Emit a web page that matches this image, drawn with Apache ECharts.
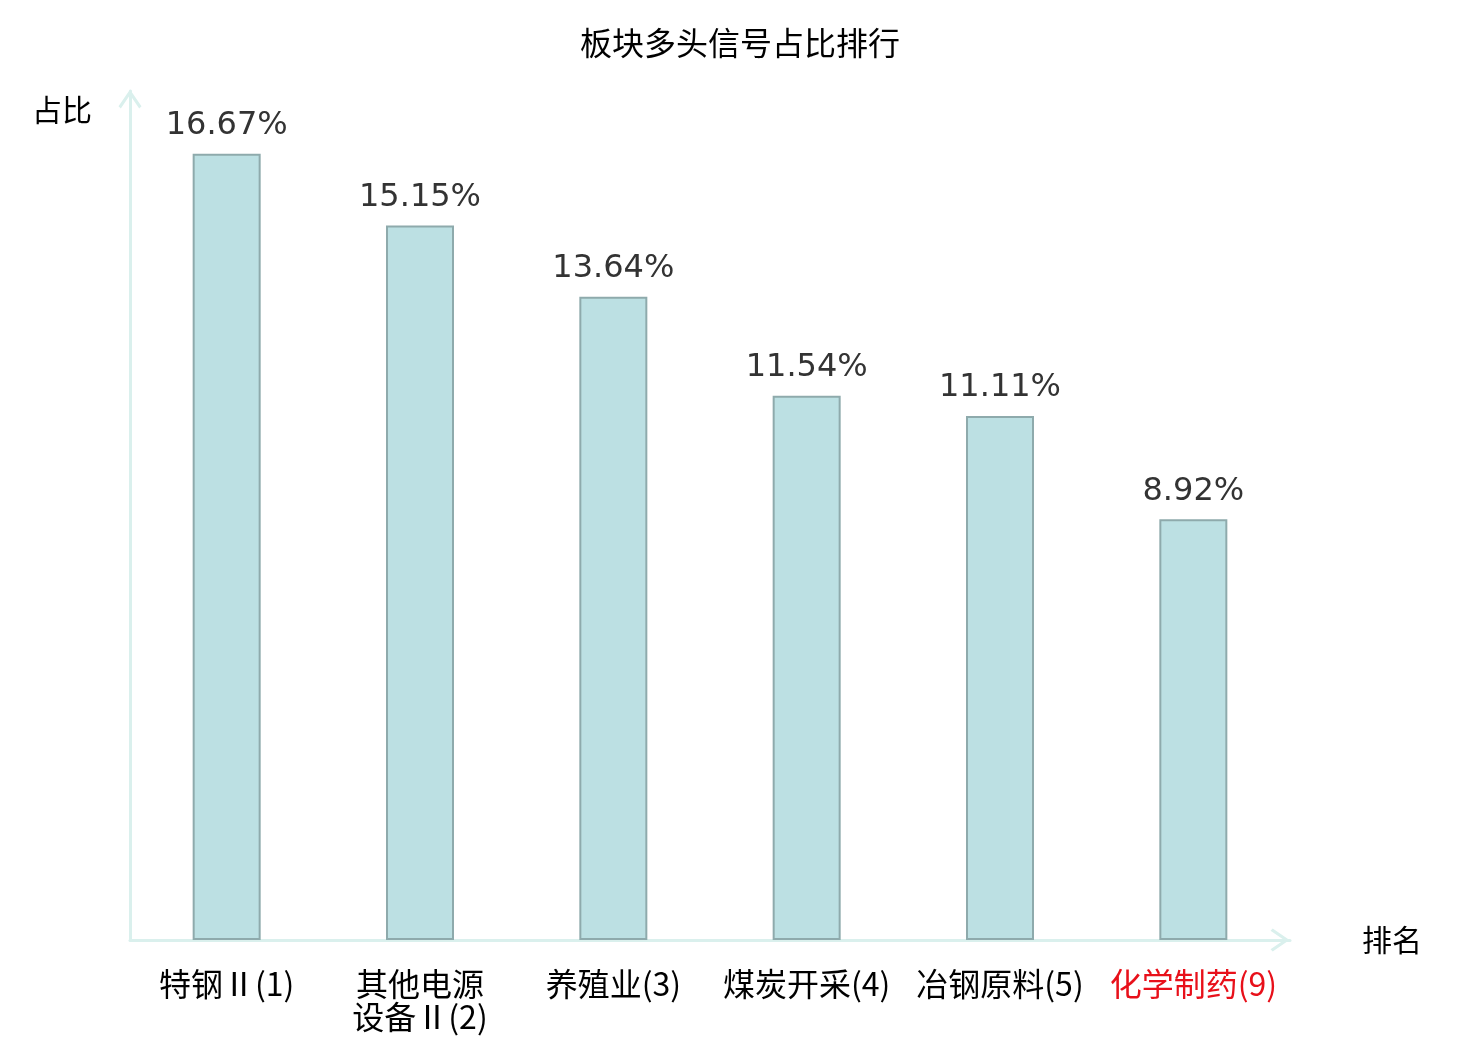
<!DOCTYPE html>
<html>
<head>
<meta charset="utf-8">
<title>板块多头信号占比排行</title>
<script src="https://cdn.jsdelivr.net/npm/echarts@6/dist/echarts.min.js"></script>
<style>
  html, body { margin: 0; padding: 0; background: #fff; }
  #chart { width: 1480px; height: 1040px; }
</style>
</head>
<body>
<div id="chart"></div>
<script>
// sector names with their rank, and the share of long signals (%)
const categories = ['特钢Ⅱ(1)', '其他电源\n设备Ⅱ(2)', '养殖业(3)', '煤炭开采(4)', '冶钢原料(5)', '化学制药(9)'];
const ratios = [16.67, 15.15, 13.64, 11.54, 11.11, 8.92];
const highlighted = ['化学制药(9)'];

const axisColor = '#daf0ed';
// open chevron arrow head, pointing up (echarts rotates it per axis)
const chevron = 'path://M12 0 L24 17.5 L21.6 19.8 L12 5.6 L2.4 19.8 L0 17.5 Z';

const chart = echarts.init(document.getElementById('chart'));

const option = {
  backgroundColor: '#fff',
  title: {
    text: '板块多头信号占比排行',
    left: 'center',
    top: 27,
    padding: 0,
    textStyle: {
      fontFamily: 'Noto Sans CJK SC',
      fontSize: 32,
      fontWeight: 'normal',
      color: '#000'
    }
  },
  grid: {
    left: 130,
    right: 190,
    top: 91,
    bottom: 100,
    containLabel: false
  },
  xAxis: {
    type: 'category',
    data: categories,
    name: '排名',
    nameLocation: 'end',
    nameGap: 72,
    nameTextStyle: {
      fontFamily: 'Noto Sans CJK SC',
      fontSize: 30,
      color: '#000',
      align: 'left',
      verticalAlign: 'middle'
    },
    axisLine: {
      show: true,
      symbol: ['none', chevron],
      symbolSize: [23, 20],
      symbolOffset: [0, -10],
      lineStyle: { color: axisColor, width: 3 }
    },
    axisTick: { show: false },
    axisLabel: {
      interval: 0,
      margin: 27,
      fontFamily: 'Noto Sans CJK SC',
      fontSize: 32,
      lineHeight: 33,
      color: function (value) {
        return highlighted.indexOf(value) >= 0 ? '#e8101a' : '#000';
      }
    }
  },
  yAxis: {
    type: 'value',
    min: 0,
    max: 18,
    name: '占比',
    nameLocation: 'end',
    nameGap: -19,
    nameTextStyle: {
      fontFamily: 'Noto Sans CJK SC',
      fontSize: 30,
      color: '#000',
      align: 'right',
      verticalAlign: 'middle',
      padding: [0, 38, 0, 0]
    },
    axisLine: {
      show: true,
      symbol: ['none', chevron],
      symbolSize: [23, 19],
      symbolOffset: [0, -8],
      lineStyle: { color: axisColor, width: 3 }
    },
    axisTick: { show: false },
    axisLabel: { show: false },
    splitLine: { show: false }
  },
  series: [
    {
      type: 'bar',
      data: ratios,
      barWidth: 68,
      itemStyle: {
        color: '#bce0e3',
        borderColor: '#8eaaac',
        borderWidth: 2
      },
      label: {
        show: true,
        position: 'top',
        distance: 12,
        formatter: '{c}%',
        fontFamily: 'DejaVu Sans',
        fontSize: 32,
        color: '#333'
      }
    }
  ]
};

chart.setOption(option);
</script>
</body>
</html>
